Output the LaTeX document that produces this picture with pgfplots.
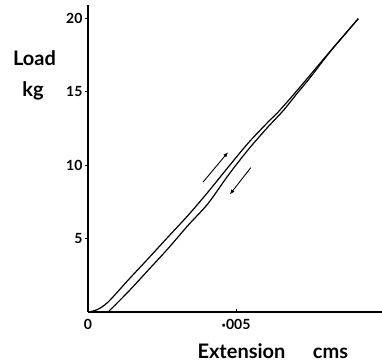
\documentclass[border=0pt]{standalone}
\usepackage{fontspec}
\setmainfont{Lato}
\usepackage{pgfplots}
\pgfplotsset{compat=1.18}
\usetikzlibrary{arrows.meta}
\begin{document}
\begin{tikzpicture}
\path[use as bounding box] (-88pt,-51pt) rectangle (294pt,312pt);
\begin{axis}[
  at={(0,0)}, anchor=south west,
  scale only axis, width=294pt, height=307pt,
  xmin=0, xmax=0.00993, ymin=0, ymax=20.9,
  axis lines*=left, axis line style={line width=1.1pt,-},
  clip=false,
  xtick={0,0.005}, xticklabels={0,{\fontsize{16}{16}\selectfont\raisebox{-0.5pt}{·}}005},
  ytick={5,10,15,20}, yticklabels={5,10,15,20},
  tick align=outside, major tick length=3pt,
  tick style={line width=0.9pt,black},
  x tick style={yshift=3pt},
  every tick label/.style={font=\fontsize{14}{16}\selectfont\bfseries},
  /pgf/number format/assume math mode=true,
  yticklabel style={xshift=1pt},
  xticklabel style={yshift=-1pt},
  scaled x ticks=false,
]
\addplot[black, line width=1.2pt, smooth, tension=0.5] coordinates {
(0,0) (0.00030,0.15) (0.00068,0.68) (0.00135,2.16) (0.00203,3.63) (0.00270,5.10)
(0.00338,6.58) (0.00405,8.16) (0.00473,9.85) (0.00541,11.50) (0.00608,12.93)
(0.00642,13.61) (0.00705,15.05) (0.00818,17.75) (0.00913,19.97)};
\addplot[black, line width=1.2pt, smooth, tension=0.5] coordinates {
(0.00068,0) (0.00135,1.36) (0.00203,2.84) (0.00270,4.31) (0.00338,5.90)
(0.00405,7.37) (0.00473,9.29) (0.00541,11.05) (0.00608,12.60) (0.00659,13.70)
(0.00705,14.85) (0.00750,15.95) (0.00818,17.72) (0.00913,19.97)};
\draw[line width=0.9pt,-{Latex[length=5pt,width=4pt]}] (axis cs:0.003885,8.84) -- (axis cs:0.00473,10.88);
\draw[line width=0.9pt,-{Latex[length=5pt,width=4pt]}] (axis cs:0.00550,9.83) -- (axis cs:0.00479,8.0);
\node[font=\fontsize{20}{22}\selectfont\bfseries, anchor=base] at ([xshift=-53.5pt,yshift=246pt]rel axis cs:0,0) {Load};
\node[font=\fontsize{20}{22}\selectfont\bfseries, anchor=base] at ([xshift=-55pt,yshift=215pt]rel axis cs:0,0) {kg};
\node[font=\fontsize{20}{22}\selectfont\bfseries, anchor=base] at ([xshift=153.5pt,yshift=-46pt]rel axis cs:0,0) {Extension};
\node[font=\fontsize{20}{22}\selectfont\bfseries, anchor=base] at ([xshift=242.5pt,yshift=-46pt]rel axis cs:0,0) {cms};
\end{axis}
\end{tikzpicture}
\end{document}
